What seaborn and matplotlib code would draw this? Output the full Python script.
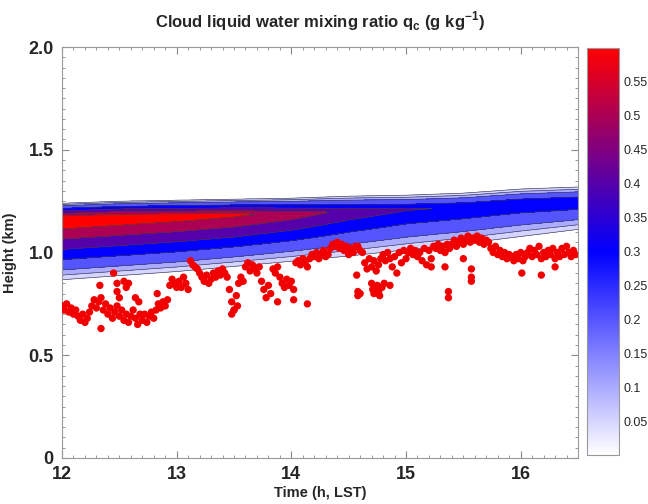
import numpy as np
import pandas as pd
import seaborn as sns
import matplotlib
import matplotlib.pyplot as plt
from matplotlib.colors import LinearSegmentedColormap, Normalize
from matplotlib.ticker import MultipleLocator

sns.set_style("ticks")
plt.rcParams['font.family'] = ['Liberation Sans', 'DejaVu Sans']
plt.rcParams['font.weight'] = 'bold'

# cloud profile read at every half hour
t_nodes = [12.0, 12.5, 13.0, 13.5, 14.0, 14.5, 15.0, 15.5, 16.0, 16.5]
cloud_base = [0.865, 0.885, 0.905, 0.93, 0.955, 0.98, 1.01, 1.04, 1.075, 1.11]
cloud_peak = [1.165, 1.175, 1.18, 1.185, 1.19, 1.20, 1.21, 1.22, 1.24, 1.25]
cloud_top = [1.24, 1.25, 1.255, 1.26, 1.265, 1.275, 1.28, 1.29, 1.31, 1.32]
qc_max = [0.60, 0.585, 0.56, 0.525, 0.46, 0.37, 0.31, 0.29, 0.28, 0.28]

levels = [0.005, 0.05, 0.1, 0.2, 0.3, 0.4, 0.5, 0.6]
cbar_ticks = [0.05, 0.1, 0.15, 0.2, 0.25, 0.3, 0.35, 0.4, 0.45, 0.5, 0.55]

# cloud base from ceilometer, one value every 0.02 h from 12.00 to 16.48
base_obs = [
    0.74, 0.72, 0.75, 0.71, 0.73, 0.70, 0.72, 0.69,
    0.67, 0.70, 0.66, 0.68, 0.71,
    0.74, 0.77, 0.73, 0.76, 0.78, 0.72, 0.75,
    0.70, 0.73, 0.68, 0.71, 0.74, 0.69,
    0.72, 0.67, 0.70, 0.66, 0.69, 0.72, 0.68, 0.65, 0.70, 0.67,
    0.70, 0.66, 0.69, 0.71, 0.68,
    0.72, 0.75, 0.73, 0.76, 0.74, 0.77,
    0.84, 0.87, 0.85, 0.83,
    0.86, 0.83, 0.88, 0.85, 0.82,
    0.96, 0.94, 0.93, 0.92,
    0.90, 0.88, 0.86, 0.89, 0.85, 0.87, 0.90, 0.88,
    0.91, 0.89, 0.92, 0.90, 0.88,
    0.82, 0.76, 0.72, 0.79,
    0.85, 0.88, 0.86,
    0.93, 0.95, 0.91, 0.94, 0.92, 0.90, 0.93,
    0.86, 0.82, 0.78, 0.84, 0.80,
    0.92, 0.90, 0.93,
    0.88, 0.85, 0.83, 0.87, 0.84, 0.86, 0.82,
    0.95, 0.96, 0.94, 0.97, 0.95, 0.93,
    0.97, 0.99, 0.98, 1.00, 0.97, 0.99, 1.01, 0.98,
    0.99, 1.02, 1.04, 1.03, 1.05, 1.02, 1.04,
    1.01, 1.03, 0.99, 1.02, 1.00, 1.03,
    1.03, 1.01, 1.00,
    0.95, 0.92, 0.97, 0.93, 0.96, 0.91, 0.94, 0.97,
    0.99, 0.96, 1.00, 0.97,
    0.93, 0.98, 0.90, 1.00, 0.95, 1.01, 0.97,
    1.00, 1.02, 0.99, 1.01, 0.98,
    1.00, 0.96, 1.02, 0.94, 1.01, 0.97, 1.03,
    1.02, 1.04, 1.01, 1.03, 1.00, 1.04, 1.02,
    1.04, 1.06, 1.03, 1.05, 1.07, 1.04,
    1.06, 1.08, 1.05, 1.07, 1.06, 1.08, 1.05, 1.07, 1.04, 1.06, 1.05,
    1.02, 1.00, 1.03, 0.99, 1.01, 0.98, 1.00, 0.97, 0.99,
    0.98, 0.96, 0.99, 0.97, 1.00, 0.96, 0.98,
    1.00, 1.02, 0.98, 1.01, 0.99, 1.03, 0.97, 1.00,
    0.98, 1.01, 0.99, 1.02, 0.97, 1.00, 0.98,
    1.02, 0.99, 1.03, 1.00, 0.98, 1.01, 0.99,
]
base_time = np.round(12.0 + 0.02 * np.arange(len(base_obs)), 2)

# scattered returns away from the main trace
extra_time = [12.33, 12.34, 12.45, 12.48, 12.48, 12.50, 12.54, 12.56, 12.58,
              12.64, 12.67, 12.83, 13.48, 13.50, 13.53, 13.88, 14.02, 14.14,
              14.57, 14.58, 14.58, 14.60, 14.70, 14.71, 14.72, 14.75, 14.76,
              14.77, 14.79, 14.81, 14.86, 15.22, 15.34, 15.37, 15.37, 15.50,
              15.57, 15.57, 15.57, 16.01, 16.18, 16.30]
extra_height = [0.84, 0.63, 0.90, 0.85, 0.81, 0.78, 0.86, 0.83, 0.85,
                0.78, 0.76, 0.80, 0.70, 0.72, 0.74, 0.76, 0.77, 0.75,
                0.89, 0.81, 0.79, 0.80, 0.85, 0.82, 0.80, 0.84, 0.81,
                0.79, 0.83, 0.85, 0.84, 0.93, 0.93, 0.81, 0.78, 0.97,
                0.92, 0.88, 0.86, 0.90, 0.89, 0.93]

cmap = LinearSegmentedColormap.from_list(
    "wbr", [(0.0, "#ffffff"), (0.5, "#0000ff"), (1.0, "#ff0000")])
norm = Normalize(0, 0.6)
# each band takes the colour of its upper level
band_colors = [cmap(norm(v)) for v in levels[1:]]

# qc field: profile rises from cloud base to a peak and drops to cloud top
t_grid = np.linspace(12, 16.5, 181)
z_grid = np.linspace(0.8, 1.4, 301)
b = np.interp(t_grid, t_nodes, cloud_base)
p = np.interp(t_grid, t_nodes, cloud_peak)
tp = np.interp(t_grid, t_nodes, cloud_top)
q = np.interp(t_grid, t_nodes, qc_max)
qc = np.array([np.interp(z_grid, [b[i], p[i], tp[i]], [0, q[i], 0], left=0, right=0)
               for i in range(len(t_grid))])

fig = plt.figure(figsize=(6.48, 5.04), dpi=100)
ax = fig.add_axes([0.0957, 0.0913, 0.7963, 0.8154])
cax = fig.add_axes([0.906, 0.097, 0.049, 0.808])

ax.contourf(t_grid, z_grid, qc.T, levels=levels, colors=band_colors,
            extend='max')
ax.contour(t_grid, z_grid, qc.T, levels=levels, colors='#3a3a50',
           linewidths=0.45)

df = pd.DataFrame({
    'time': np.concatenate([base_time, extra_time]),
    'height': np.concatenate([base_obs, extra_height]),
})
sns.scatterplot(data=df, x='time', y='height', ax=ax, color='#f00000',
                edgecolor='none', s=28, legend=False, zorder=5)

ax.set_xlim(12, 16.5)
ax.set_ylim(0, 2.0)
ax.set_xticks([12, 13, 14, 15, 16])
ax.set_yticks([0, 0.5, 1.0, 1.5, 2.0])
ax.set_yticklabels(['0', '0.5', '1.0', '1.5', '2.0'])
ax.xaxis.set_minor_locator(MultipleLocator(0.1))
ax.yaxis.set_minor_locator(MultipleLocator(0.05))
ax.tick_params(which='both', direction='in', top=True, right=True,
               color='#888888')
ax.tick_params(which='major', length=5, labelsize=13, pad=6)
ax.tick_params(which='minor', length=2.5)
for lab in ax.get_xticklabels() + ax.get_yticklabels():
    lab.set_fontweight('bold')
for sp in ax.spines.values():
    sp.set_color('#999999')
    sp.set_linewidth(0.8)

ax.set_xlabel('Time (h, LST)', fontsize=10.5, fontweight='bold', labelpad=2)
ax.set_ylabel('Height (km)', fontsize=10.5, fontweight='bold', labelpad=8)
ax.set_title(r'Cloud liquid water mixing ratio q$_\mathregular{c}$ (g kg$^\mathregular{-1}$)',
             fontsize=12, fontweight='bold', pad=14)

sm = matplotlib.cm.ScalarMappable(norm=norm, cmap=cmap)
cb = fig.colorbar(sm, cax=cax, ticks=cbar_ticks)
cb.ax.set_yticklabels([f'{v:g}' for v in cbar_ticks])
cb.ax.tick_params(labelsize=9, length=2, direction='in', color='#555555')
for lab in cb.ax.get_yticklabels():
    lab.set_fontweight('normal')
cb.outline.set_edgecolor('#999999')
cb.outline.set_linewidth(0.8)

fig.savefig('out.png', dpi=100)
